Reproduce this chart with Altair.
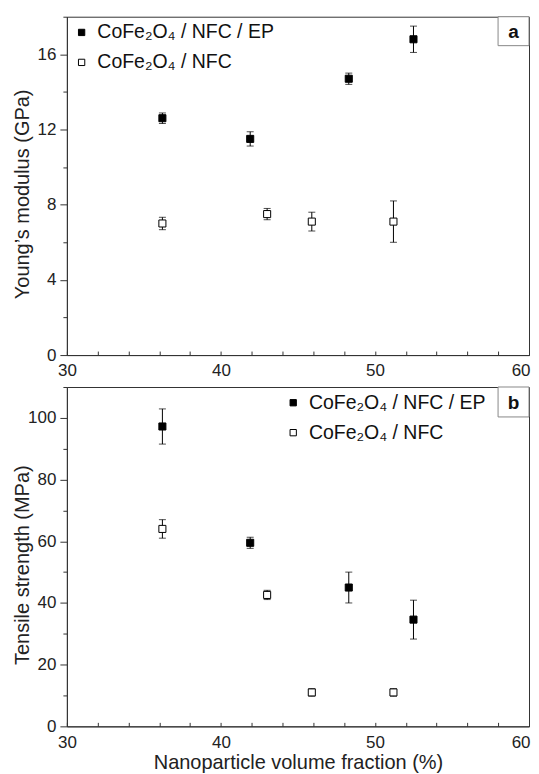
import altair as alt
import pandas as pd

SER_EP = "CoFe₂O₄ / NFC / EP"
SER_NFC = "CoFe₂O₄ / NFC"

# Panel a: Young's modulus (GPa)
a_x_ep = [36.2, 41.9, 48.3, 52.5]
a_y_ep = [12.6, 11.5, 14.7, 16.8]
a_e_ep = [0.28, 0.38, 0.3, 0.7]
a_x_nfc = [36.2, 43.0, 45.9, 51.2]
a_y_nfc = [7.0, 7.5, 7.1, 7.1]
a_e_nfc = [0.33, 0.3, 0.5, 1.1]

# Panel b: Tensile strength (MPa)
b_x_ep = [36.2, 41.9, 48.3, 52.5]
b_y_ep = [97.2, 59.5, 45.0, 34.6]
b_e_ep = [5.7, 1.8, 5.0, 6.3]
b_x_nfc = [36.2, 43.0, 45.9, 51.2]
b_y_nfc = [64.0, 42.6, 11.0, 11.0]
b_e_nfc = [3.0, 1.5, 1.2, 1.2]

FONT = "Liberation Sans"
W = 463


def frame(xe, ye, ee, xn, yn, en):
    rows = []
    for x, y, e in zip(xe, ye, ee):
        rows.append({"x": x, "y": y, "lo": y - e, "hi": y + e, "s": SER_EP})
    for x, y, e in zip(xn, yn, en):
        rows.append({"x": x, "y": y, "lo": y - e, "hi": y + e, "s": SER_NFC})
    return pd.DataFrame(rows)


def panel(df, ymax, minor, major, ytitle, xtitle, letter, box_h, H, legx, xlabpad):
    xscale = alt.Scale(domain=[30, 60], nice=False, zero=False)
    yscale = alt.Scale(domain=[0, ymax], nice=False)
    yaxis = alt.Axis(
        title=ytitle, values=list(range(0, ymax + 1, minor)),
        labelExpr=f"datum.value % {major} === 0 ? datum.label : ''",
        tickSize={"condition": {"test": f"datum.value % {major} === 0", "value": 7}, "value": 4},
        grid=False, domainColor="#333", tickColor="#333", labelColor="#222",
        labelFont=FONT, labelFontSize=17, labelPadding=4, titleFont=FONT,
        titleFontSize=20, titleFontWeight="normal", titleColor="#222",
        titleX=-38, titleY=H / 2 + 8, titleAngle=-90, titleBaseline="alphabetic", titleAlign="center",
    )
    xaxis_lab = alt.Axis(
        title=xtitle, orient="bottom", values=[30, 40, 50, 60], ticks=False, tickSize=0, grid=False,
        domainColor="#333", labelColor="#222", labelFont=FONT, labelFontSize=17, labelFlush=False,
        labelAlign={"condition": {"test": "datum.value === 60", "value": "right"}, "value": "center"},
        labelOffset={"condition": {"test": "datum.value === 60", "value": 1}, "value": 0},
        labelPadding=xlabpad, titleFont=FONT, titleFontSize=20, titleFontWeight="normal",
        titleColor="#222", titlePadding=2, format="d",
    )
    xaxis_tick = alt.Axis(
        title=None, orient="bottom", values=list(range(30, 61, 2)), labels=False, domain=False,
        grid=False, tickSize=4, offset=-4, tickColor="#333",
    )
    base = alt.Chart(df)
    rules = base.mark_rule(color="black", strokeWidth=1).encode(
        x=alt.X("x:Q", scale=xscale, axis=xaxis_tick),
        y=alt.Y("lo:Q", scale=yscale, axis=yaxis),
        y2="hi:Q",
    )
    caps_lo = base.mark_tick(color="black", orient="horizontal", size=7, thickness=1).encode(
        x=alt.X("x:Q", scale=xscale, axis=None),
        y=alt.Y("lo:Q", scale=yscale, axis=yaxis),
    )
    caps_hi = base.mark_tick(color="black", orient="horizontal", size=7, thickness=1).encode(
        x=alt.X("x:Q", scale=xscale, axis=None),
        y=alt.Y("hi:Q", scale=yscale, axis=yaxis),
    )
    pts = base.mark_square(size=50, stroke="black", strokeWidth=1, opacity=1).encode(
        x=alt.X("x:Q", scale=xscale, axis=xaxis_lab),
        y=alt.Y("y:Q", scale=yscale, axis=yaxis),
        fill=alt.Fill(
            "s:N",
            scale=alt.Scale(domain=[SER_EP, SER_NFC], range=["black", "white"]),
            legend=alt.Legend(
                title=None, orient="none", legendX=legx, legendY=6, padding=0,
                symbolType="square", symbolSize=40, symbolStrokeColor="black",
                symbolStrokeWidth=1, labelFont=FONT, labelFontSize=19.5, labelLimit=400,
                labelColor="#111", rowPadding=9, labelOffset=6,
            ),
        ),
    )
    lab = pd.DataFrame({"t": [letter]})
    box = alt.Chart(lab).mark_rect(fill="white", stroke="#888", strokeWidth=1).encode(
        x=alt.value(W - 31), x2=alt.value(W), y=alt.value(0), y2=alt.value(box_h)
    )
    txt = alt.Chart(lab).mark_text(
        font=FONT, fontSize=19, fontWeight="bold", color="#111", align="center", baseline="middle"
    ).encode(x=alt.value(W - 15.5), y=alt.value(box_h / 2 + 1), text="t:N")
    return alt.layer(rules, caps_lo, caps_hi, pts, box, txt).resolve_axis(x="independent").properties(
        width=W, height=H
    )


df_a = frame(a_x_ep, a_y_ep, a_e_ep, a_x_nfc, a_y_nfc, a_e_nfc)
df_b = frame(b_x_ep, b_y_ep, b_e_ep, b_x_nfc, b_y_nfc, b_e_nfc)

pa = panel(df_a, 18, 2, 4, "Young’s modulus (GPa)", None, "a", 29, 339, 5, 7)
pb = panel(df_b, 110, 10, 20, "Tensile strength (MPa)", "Nanoparticle volume fraction (%)", "b", 30, 340, 217, 8)

chart = alt.vconcat(pa, pb, spacing=7).properties(
    padding={"left": 4, "top": 7, "right": 0, "bottom": 0}
).configure_view(stroke="#333", strokeWidth=1).resolve_legend(fill="independent").resolve_scale(fill="independent")

chart.save("out.html", embed_options={"renderer": "svg", "actions": False})
